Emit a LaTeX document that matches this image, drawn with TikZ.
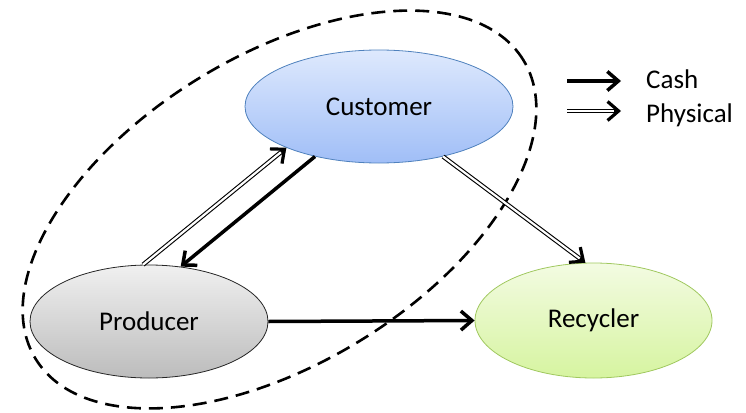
\documentclass[tikz,border=0pt]{standalone}
\usepackage{fontspec}
\setmainfont{Carlito}
\usetikzlibrary{shapes.geometric,arrows.meta,calc}
\definecolor{custtop}{RGB}{222,233,253}
\definecolor{custbot}{RGB}{160,190,247}
\definecolor{custline}{RGB}{79,129,189}
\definecolor{prodtop}{RGB}{240,240,240}
\definecolor{prodbot}{RGB}{188,188,188}
\definecolor{rectop}{RGB}{243,251,226}
\definecolor{recbot}{RGB}{214,244,160}
\definecolor{recline}{RGB}{160,200,95}
\begin{document}
\begin{tikzpicture}[x=1pt,y=-1pt,
  actor/.style={ellipse, inner sep=0pt, line width=0.8pt, font=\fontsize{27}{32}\selectfont},
  lbl/.style={inner sep=0pt, anchor=base west, font=\fontsize{27}{32}\selectfont},
  cash/.style={line width=3.5pt, -{Straight Barb[length=11pt,width=19pt]}},
  phys/.style={double, line width=1.1pt, double distance=2.2pt},
  ptip/.style={line width=3.2pt, -{Straight Barb[length=11pt,width=19pt]}},
  group/.style={draw, ellipse, dash pattern=on 14pt off 8pt, line width=2.6pt, inner sep=0pt}
  ]
\useasboundingbox (0,0) rectangle (746,412);
\node[group, rotate=31.5, minimum width=572pt, minimum height=308pt] (grp) at (279.5,209.5) {};
\node[actor, minimum width=268pt, minimum height=113pt, top color=custtop, bottom color=custbot, draw=custline] (cust) at (379,106.5) {Customer};
\node[actor, minimum width=238pt, minimum height=113pt, top color=prodtop, bottom color=prodbot, draw=black!85] (prod) at (149,321.5) {Producer};
\node[actor, minimum width=237pt, minimum height=115pt, top color=rectop, bottom color=recbot, draw=recline] (rec) at (593.5,320.5) {Recycler};
% connectors
\draw[cash] (cust.218) -- (prod.60);
\draw[cash] (prod.east) -- (rec.west);
\draw[phys, shorten >=4pt] (prod.96) -- (cust.204);
\draw[ptip] ($(cust.204)!7pt!(prod.96)$) -- (cust.204);
\draw[phys, shorten >=4pt] (cust.322.6) -- (rec.98.4);
\draw[ptip] ($(rec.98.4)!7pt!(cust.322.6)$) -- (rec.98.4);
% legend
\coordinate (lc1) at (567,81);
\coordinate (lc2) at (621,81);
\coordinate (lp1) at (567,111);
\coordinate (lp2) at (621,111);
\draw[cash] (lc1) -- (lc2);
\draw[phys, shorten >=4pt] (lp1) -- (lp2);
\draw[ptip] ($(lp2)!7pt!(lp1)$) -- (lp2);
\node[lbl] (lcash) at (646,88) {Cash};
\node[lbl] (lphys) at (646,122) {Physical};
\end{tikzpicture}
\end{document}
